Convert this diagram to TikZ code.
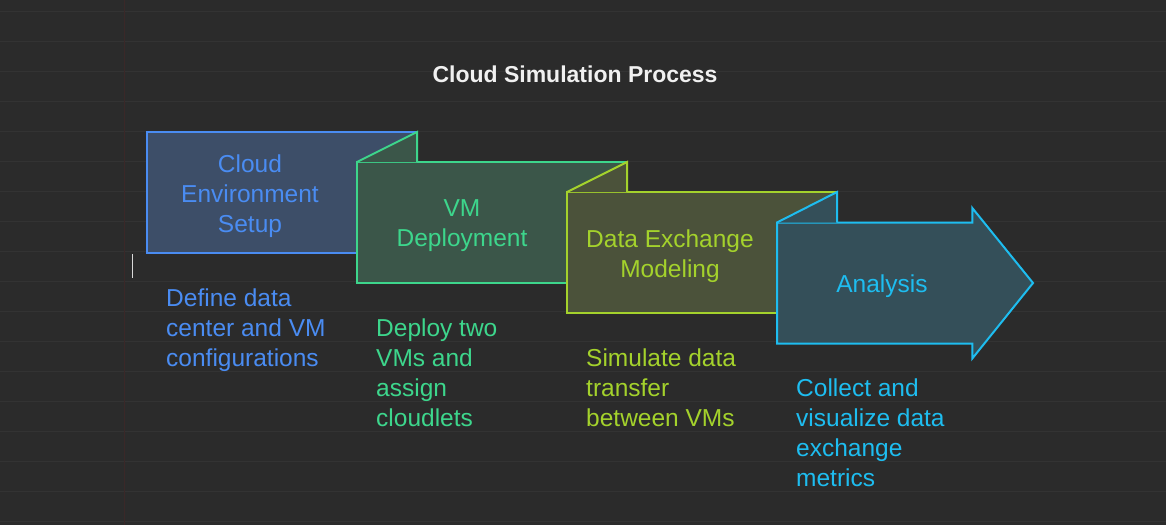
\documentclass[tikz,border=0pt]{standalone}
\usepackage{fontspec}
\setmainfont{Liberation Sans}
\begin{document}
\definecolor{bg}{HTML}{2B2B2B}
\definecolor{rule}{HTML}{333333}
\definecolor{margin}{HTML}{3A2828}
\definecolor{blueS}{HTML}{4A8CF2}
\definecolor{blueF}{HTML}{3D4E68}
\definecolor{greenS}{HTML}{3DD68C}
\definecolor{greenF}{HTML}{3B5649}
\definecolor{limeS}{HTML}{A4D22C}
\definecolor{limeF}{HTML}{4B523A}
\definecolor{cyanS}{HTML}{1EBDF0}
\definecolor{cyanF}{HTML}{344F59}
\begin{tikzpicture}[x=1pt,y=-1pt,
  stage/.style={line width=2pt, line join=miter},
  lbl/.style={font=\fontsize{24.5}{30}\selectfont, align=center, inner sep=0pt},
  desc/.style={font=\fontsize{24.5}{30}\selectfont, align=left, inner sep=0pt, anchor=north west},
  title/.style={font=\fontsize{23}{28}\selectfont\bfseries, text=white!94!black, inner sep=0pt}]
% background, ruled lines and margin line
\fill[bg] (0,0) rectangle (1166,525);
\useasboundingbox (0,0) rectangle (1166,525);
\foreach \k in {0,...,17}
  \draw[rule, line width=1pt] (0,11.7+30*\k) -- (1166,11.7+30*\k);
\draw[margin, line width=1pt] (124.3,0) -- (124.3,525);
\draw[white!85!black, line width=1pt] (132.5,254) -- (132.5,278);

% title
\node[title] (title) at (575,74) {Cloud Simulation Process};

% stage 1
\draw[stage, draw=blueS, fill=blueF] (147,132) rectangle (417,253);
% stage 2 with fold
\draw[stage, draw=greenS, fill=greenF] (357,162) rectangle (627,283);
\draw[stage, draw=greenS, fill=greenF] (357,162) -- (417,132) -- (417,162);
% stage 3 with fold
\draw[stage, draw=limeS, fill=limeF] (567,192) rectangle (837,313);
\draw[stage, draw=limeS, fill=limeF] (567,192) -- (627,162) -- (627,192);
% final arrow with fold
\draw[stage, draw=cyanS, fill=cyanF] (777,222.5) -- (972.3,222.5) -- (972.3,208) -- (1033,283)
  -- (972.3,358.5) -- (972.3,343.5) -- (777,343.5) -- cycle;
\draw[stage, draw=cyanS, fill=cyanF] (777,222.5) -- (837,192) -- (837,222.5);

% stage labels
\node[lbl, text=blueS] (s1) at (250,196) {Cloud\\Environment\\Setup};
\node[lbl, text=greenS] (s2) at (462,226) {VM\\Deployment};
\node[lbl, text=limeS] (s3) at (670,256) {Data Exchange\\Modeling};
\node[lbl, text=cyanS] (s4) at (882,286) {Analysis};

% descriptions
\node[desc, text=blueS] (d1) at (166,288.5) {Define data\\center and VM\\configurations};
\node[desc, text=greenS] (d2) at (376,318.5) {Deploy two\\VMs and\\assign\\cloudlets};
\node[desc, text=limeS] (d3) at (586,348.5) {Simulate data\\transfer\\between VMs};
\node[desc, text=cyanS] (d4) at (796,378.5) {Collect and\\visualize data\\exchange\\metrics};
\end{tikzpicture}
\end{document}
